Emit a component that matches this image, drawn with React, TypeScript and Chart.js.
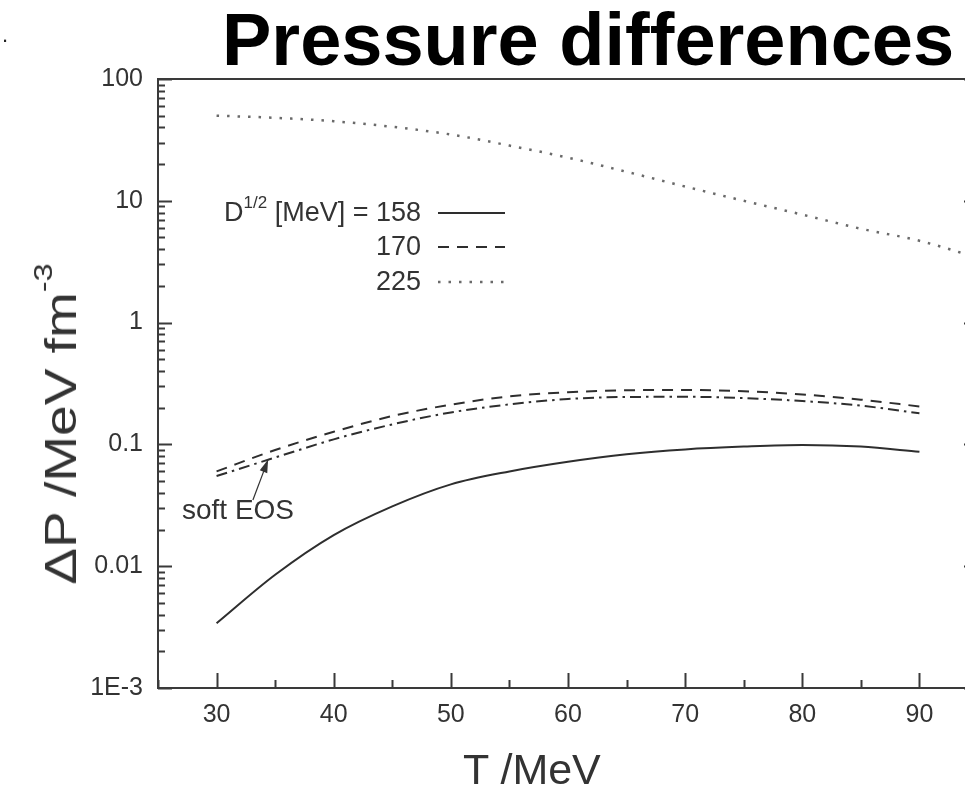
import React, { useEffect, useRef } from "react";
import { Chart, registerables } from "chart.js";

Chart.register(...registerables);

// ---- data ----
const temperatures = [30, 35, 40, 45, 50, 55, 60, 65, 70, 75, 80, 85, 90];
const temperatures225 = [30, 35, 40, 45, 50, 55, 60, 65, 70, 75, 80, 85, 90, 95];
const dP158 = [0.0034, 0.0085, 0.018, 0.031, 0.047, 0.06, 0.072, 0.083, 0.091, 0.096, 0.099, 0.096, 0.087];
const dP170 = [0.06, 0.09, 0.127, 0.171, 0.212, 0.248, 0.268, 0.278, 0.28, 0.273, 0.257, 0.233, 0.205];
const dPsoftEOS = [0.055, 0.078, 0.11, 0.146, 0.183, 0.213, 0.236, 0.245, 0.246, 0.24, 0.227, 0.208, 0.18];
const dP225 = [50, 48, 45, 40.5, 35, 28.4, 22.6, 17.3, 13.1, 10, 7.7, 5.9, 4.7, 3.4];

const xTickValues = [30, 40, 50, 60, 70, 80, 90];
const xMinorTickValues = [25, 35, 45, 55, 65, 75, 85, 95];
const yTickValues = [0.001, 0.01, 0.1, 1, 10, 100];
const yTickLabels = ["1E-3", "0.01", "0.1", "1", "10", "100"];
const legendValues = ["158", "170", "225"];
const softEOSArrowFrom = { x: 33.1, y: 0.035 };
const softEOSArrowTo = { x: 34.4, y: 0.075 };

// ---- styles ----
const FONT = "'Liberation Sans', Arial, Helvetica, sans-serif";
const INK = "#333333";
const AXIS = "#3a3a3a";
const LEGEND_ROWS = [213, 247, 282];
const LEGEND_X0 = 438;
const LEGEND_X1 = 505;

const DASH_SOLID: number[] = [];
const DASH_170 = [11, 8];
const DASH_225 = [2.5, 8];
const DASH_SOFT = [11, 5, 2.5, 5];

const framePlugin = {
  id: "frameTicks",
  afterDraw(chart: any) {
    const { ctx, chartArea: a, scales } = chart;
    const xs = scales.x;
    const ys = scales.y;
    ctx.save();
    ctx.strokeStyle = AXIS;
    ctx.lineWidth = 2;
    ctx.strokeRect(a.left, a.top, a.right - a.left, a.bottom - a.top);
    ctx.beginPath();
    yTickValues.forEach((dec, i) => {
      for (let m = 1; m < 10; m++) {
        if (i === yTickValues.length - 1 && m > 1) break;
        const py = Math.round(ys.getPixelForValue(dec * m)) + 0.5;
        const len = m === 1 ? 14 : 7;
        ctx.moveTo(a.left, py);
        ctx.lineTo(a.left + len, py);
        ctx.moveTo(a.right, py);
        ctx.lineTo(a.right - len, py);
      }
    });
    xTickValues.forEach((v) => {
      const px = Math.round(xs.getPixelForValue(v)) + 0.5;
      ctx.moveTo(px, a.bottom);
      ctx.lineTo(px, a.bottom - 15);
    });
    xMinorTickValues.forEach((v) => {
      const px = Math.round(xs.getPixelForValue(v)) + 0.5;
      ctx.moveTo(px, a.bottom);
      ctx.lineTo(px, a.bottom - 8);
    });
    ctx.stroke();

    // legend sample lines
    chart.data.datasets.forEach((ds: any, i: number) => {
      if (i > 2) return;
      ctx.beginPath();
      ctx.strokeStyle = ds.borderColor;
      ctx.lineWidth = ds.borderWidth;
      ctx.setLineDash(ds.borderDash || []);
      ctx.moveTo(LEGEND_X0, LEGEND_ROWS[i]);
      ctx.lineTo(LEGEND_X1, LEGEND_ROWS[i]);
      ctx.stroke();
    });
    ctx.setLineDash([]);

    // soft EOS arrow
    const fx = xs.getPixelForValue(softEOSArrowFrom.x);
    const fy = ys.getPixelForValue(softEOSArrowFrom.y);
    const tx = xs.getPixelForValue(softEOSArrowTo.x);
    const ty = ys.getPixelForValue(softEOSArrowTo.y);
    const ang = Math.atan2(ty - fy, tx - fx);
    ctx.strokeStyle = INK;
    ctx.fillStyle = INK;
    ctx.lineWidth = 1.2;
    ctx.beginPath();
    ctx.moveTo(fx, fy);
    ctx.lineTo(tx, ty);
    ctx.stroke();
    const hl = 13;
    const hw = 4;
    ctx.beginPath();
    ctx.moveTo(tx, ty);
    ctx.lineTo(tx - hl * Math.cos(ang) + hw * Math.sin(ang), ty - hl * Math.sin(ang) - hw * Math.cos(ang));
    ctx.lineTo(tx - hl * Math.cos(ang) - hw * Math.sin(ang), ty - hl * Math.sin(ang) + hw * Math.cos(ang));
    ctx.closePath();
    ctx.fill();
    ctx.restore();
  },
};

export default function App() {
  const canvasRef = useRef<HTMLCanvasElement | null>(null);

  useEffect(() => {
    if (!canvasRef.current) return;
    const mk = (xsArr: number[], ys: number[]) => xsArr.map((x, i) => ({ x, y: ys[i] }));
    const chart = new Chart(canvasRef.current, {
      type: "line",
      data: {
        datasets: [
          {
            label: "158",
            data: mk(temperatures, dP158),
            borderColor: "#2e2e2e",
            borderWidth: 2,
            borderDash: DASH_SOLID,
            pointRadius: 0,
            cubicInterpolationMode: "monotone",
          },
          {
            label: "170",
            data: mk(temperatures, dP170),
            borderColor: "#2e2e2e",
            borderWidth: 2,
            borderDash: DASH_170,
            pointRadius: 0,
            cubicInterpolationMode: "monotone",
          },
          {
            label: "225",
            data: mk(temperatures225, dP225),
            borderColor: "#6a6a6a",
            borderWidth: 2.5,
            borderDash: DASH_225,
            pointRadius: 0,
            cubicInterpolationMode: "monotone",
          },
          {
            label: "soft EOS",
            data: mk(temperatures, dPsoftEOS),
            borderColor: "#2e2e2e",
            borderWidth: 2,
            borderDash: DASH_SOFT,
            pointRadius: 0,
            cubicInterpolationMode: "monotone",
          },
        ],
      },
      options: {
        animation: false,
        responsive: false,
        maintainAspectRatio: false,
        layout: { padding: { top: 79, right: 22, left: 0, bottom: 0 } },
        plugins: { legend: { display: false }, tooltip: { enabled: false }, title: { display: false } },
        scales: {
          x: {
            type: "linear",
            min: 25,
            max: 95,
            grid: { display: false, drawTicks: false },
            border: { display: false },
            afterBuildTicks: (scale: any) => {
              scale.ticks = xTickValues.map((v) => ({ value: v }));
            },
            afterFit: (scale: any) => {
              scale.height = 98;
            },
            ticks: {
              autoSkip: false,
              maxRotation: 0,
              padding: 12,
              color: INK,
              font: { family: FONT, size: 25 },
              callback: (v: any) => String(v),
            },
          },
          y: {
            type: "logarithmic",
            min: 0.001,
            max: 100,
            grid: { display: false, drawTicks: false },
            border: { display: false },
            afterBuildTicks: (scale: any) => {
              scale.ticks = yTickValues.map((v) => ({ value: v, major: true }));
            },
            afterFit: (scale: any) => {
              scale.width = 158;
            },
            ticks: {
              autoSkip: false,
              padding: 15,
              color: INK,
              font: { family: FONT, size: 25 },
              callback: (v: any) => {
                const idx = yTickValues.findIndex((t) => Math.abs(Math.log10(t) - Math.log10(Number(v))) < 1e-6);
                return idx >= 0 ? yTickLabels[idx] : "";
              },
            },
          },
        },
      },
      plugins: [framePlugin],
    } as any);
    return () => chart.destroy();
  }, []);

  const abs = (o: React.CSSProperties): React.CSSProperties => ({
    position: "absolute",
    whiteSpace: "nowrap",
    lineHeight: 1,
    color: INK,
    ...o,
  });

  return (
    <div
      style={{
        position: "fixed",
        left: 0,
        top: 0,
        width: 965,
        height: 786,
        overflow: "hidden",
        background: "#fff",
        fontFamily: FONT,
      }}
    >
      <canvas ref={canvasRef} width={1000} height={786} style={{ position: "absolute", left: 0, top: 0, width: 1000, height: 786 }} />
      <div style={abs({ left: 2, top: 24, fontSize: 22, color: "#222" })}>.</div>
      <div style={abs({ left: 222, top: 3, fontSize: 74, fontWeight: 700, color: "#000" })}>Pressure differences</div>
      <div style={abs({ left: 463, top: 748, fontSize: 43 })}>T /MeV</div>
      <div
        style={abs({
          left: 61,
          top: 424,
          fontSize: 44,
          transform: "translate(-50%, -50%) rotate(-90deg) scaleX(1.25)",
        })}
      >
        ΔP /MeV fm<sup style={{ fontSize: 26, verticalAlign: "top", position: "relative", top: -9 }}>-3</sup>
      </div>
      <div style={abs({ right: 965 - 421, top: LEGEND_ROWS[0] - 14, fontSize: 27 })}>
        D<sup style={{ fontSize: 17, verticalAlign: "top", position: "relative", top: -5 }}>1/2</sup> [MeV] = {legendValues[0]}
      </div>
      <div style={abs({ right: 965 - 421, top: LEGEND_ROWS[1] - 14, fontSize: 27 })}>{legendValues[1]}</div>
      <div style={abs({ right: 965 - 421, top: LEGEND_ROWS[2] - 14, fontSize: 27 })}>{legendValues[2]}</div>
      <div style={abs({ left: 182, top: 496, fontSize: 28 })}>soft EOS</div>
    </div>
  );
}
